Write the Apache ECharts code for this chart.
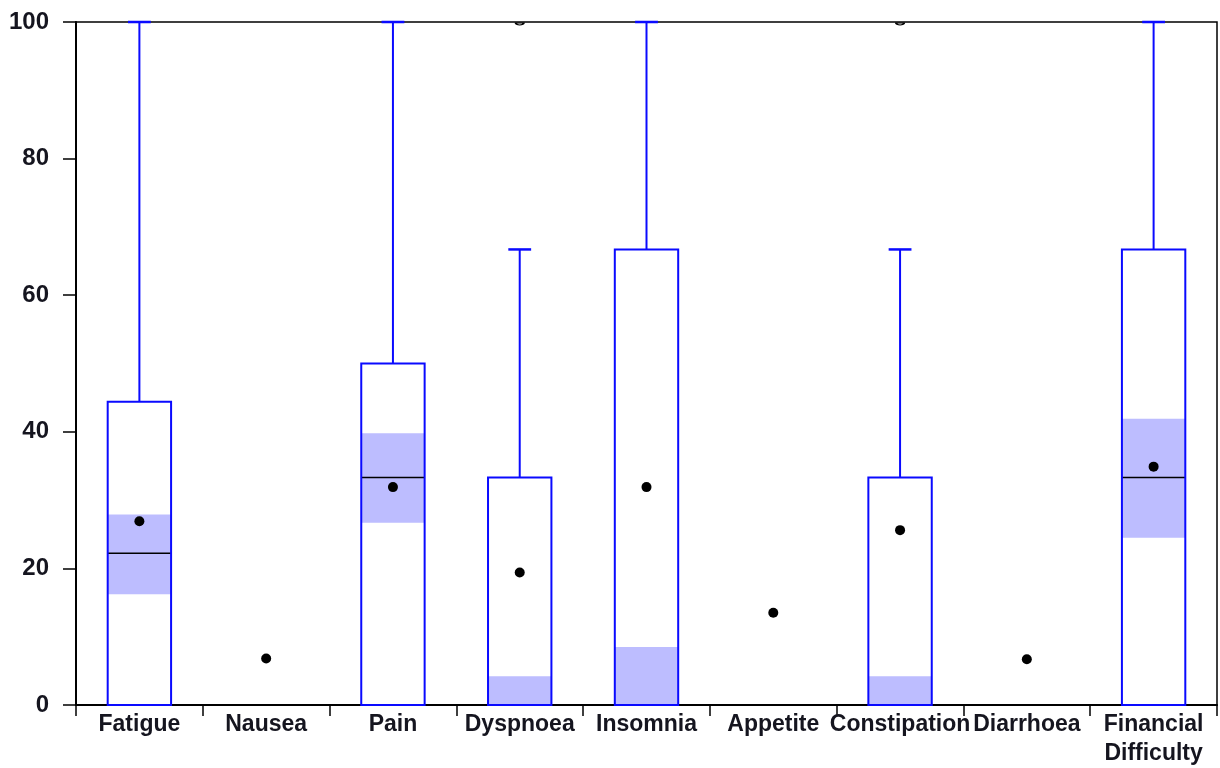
<!DOCTYPE html>
<html>
<head>
<meta charset="utf-8">
<script src="https://cdn.jsdelivr.net/npm/echarts@6/dist/echarts.min.js"></script>
<style>
html,body{margin:0;padding:0;background:#fff;}
#chart{width:1220px;height:768px;}
</style>
</head>
<body>
<div id="chart"></div>
<script>
var categories = ['Fatigue','Nausea','Pain','Dyspnoea','Insomnia','Appetite','Constipation','Diarrhoea','Financial\nDifficulty'];
var whiskerLow  = [0, 0, 0, 0, 0, 0, 0, 0, 0];
var q1          = [0, 0, 0, 0, 0, 0, 0, 0, 0];
var medians     = [22.2, 0, 33.3, 0, 0, 0, 0, 0, 33.3];
var q3          = [44.4, 0, 50, 33.3, 66.7, 0, 33.3, 0, 66.7];
var whiskerHigh = [100, 0, 100, 66.7, 100, 0, 66.7, 0, 100];
var bandLow     = [16.2, 0, 26.7, 0, 0, 0, 0, 0, 24.5];
var bandHigh    = [27.9, 0, 39.8, 4.2, 8.5, 0, 4.2, 0, 41.9];
var means       = [26.9, 6.8, 31.9, 19.4, 31.9, 13.5, 25.6, 6.7, 34.9];
var outliers    = [[3, 100], [6, 100]];
var yTicks      = [0, 20, 40, 60, 80, 100];

var BLUE = '#0a0aff';
var BAND = '#bdbdff';

var boxData = categories.map(function(c, i){
  return [i, whiskerLow[i], q1[i], medians[i], q3[i], whiskerHigh[i], bandLow[i], bandHigh[i]];
});

function renderBox(params, api){
  var i = api.value(0);
  var wl = api.value(1), b1 = api.value(2), md = api.value(3), b3 = api.value(4), wh = api.value(5);
  var nl = api.value(6), nh = api.value(7);
  if (wl === wh && b1 === b3 && nl === nh) return null;
  var catW = api.size([1, 0])[0];
  var halfW = catW * 0.25;
  var capW = catW * 0.09;
  var cx = api.coord([i, 0])[0];
  var yq1 = api.coord([i, b1])[1], yq3 = api.coord([i, b3])[1];
  var ymd = api.coord([i, md])[1];
  var ywh = api.coord([i, wh])[1], ywl = api.coord([i, wl])[1];
  var ynl = api.coord([i, nl])[1], ynh = api.coord([i, nh])[1];
  var children = [];
  if (nh > nl) {
    children.push({type:'rect', shape:{x:cx-halfW, y:ynh, width:halfW*2, height:ynl-ynh}, style:{fill:BAND}});
  }
  if (md > b1 && md < b3) {
    children.push({type:'line', shape:{x1:cx-halfW, y1:ymd, x2:cx+halfW, y2:ymd}, style:{stroke:'#000', lineWidth:1.5}});
  }
  children.push({type:'rect', shape:{x:cx-halfW, y:yq3, width:halfW*2, height:yq1-yq3}, style:{fill:null, stroke:BLUE, lineWidth:2}});
  if (wh > b3) {
    children.push({type:'line', shape:{x1:cx, y1:yq3, x2:cx, y2:ywh}, style:{stroke:BLUE, lineWidth:2}});
    children.push({type:'line', shape:{x1:cx-capW, y1:ywh, x2:cx+capW, y2:ywh}, style:{stroke:BLUE, lineWidth:2.5}});
  }
  if (wl < b1) {
    children.push({type:'line', shape:{x1:cx, y1:yq1, x2:cx, y2:ywl}, style:{stroke:BLUE, lineWidth:2}});
    children.push({type:'line', shape:{x1:cx-capW, y1:ywl, x2:cx+capW, y2:ywl}, style:{stroke:BLUE, lineWidth:2.5}});
  }
  return {type:'group', children:children};
}

var chart = echarts.init(document.getElementById('chart'), null, {renderer:'canvas'});
chart.setOption({
  animation:false,
  backgroundColor:'#fff',
  grid:{left:76, right:3, top:22, bottom:62, show:true, borderColor:'#000', borderWidth:1.5, backgroundColor:'transparent'},
  xAxis:{
    type:'category',
    data:categories,
    boundaryGap:true,
    axisLine:{lineStyle:{color:'#000', width:2}},
    axisTick:{show:true, length:11, lineStyle:{color:'#000', width:1.5}},
    axisLabel:{interval:0, fontFamily:'Liberation Sans, Arial', fontWeight:'bold', fontSize:23, color:'#15151f', margin:5, lineHeight:29},
    splitLine:{show:false}
  },
  yAxis:{
    type:'value',
    min:yTicks[0], max:yTicks[yTicks.length-1], interval:20,
    axisLine:{show:true, lineStyle:{color:'#000', width:2}},
    axisTick:{show:true, length:13, lineStyle:{color:'#000', width:1.5}},
    axisLabel:{fontFamily:'Liberation Sans, Arial', fontWeight:'bold', fontSize:24, color:'#15151f', margin:27},
    splitLine:{show:false}
  },
  series:[
    {type:'custom', renderItem:renderBox, data:boxData, clip:false, z:2,
     encode:{x:0, y:[1,2,3,4,5]}},
    {type:'scatter', data:means.map(function(v,i){return [i, v];}), symbol:'circle', symbolSize:10,
     itemStyle:{color:'#000', opacity:1}, z:5, silent:true},
    {type:'scatter', data:outliers, symbol:'path://M0,0 A4,4 0 0 0 8,0 Z', symbolKeepAspect:true,
     symbolSize:[8,4], symbolOffset:[0,2],
     itemStyle:{color:'#fff', borderColor:'#000', borderWidth:1.5, opacity:1}, z:4, silent:true}
  ]
});
</script>
</body>
</html>
